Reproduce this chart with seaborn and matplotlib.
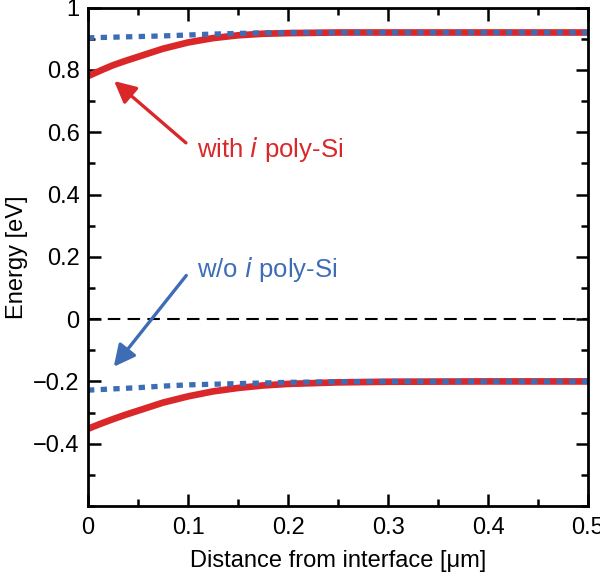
import pandas as pd
import matplotlib.pyplot as plt
import seaborn as sns
from matplotlib.ticker import MultipleLocator

# values
distance = [0, 0.0125, 0.025, 0.0375, 0.05, 0.075, 0.1, 0.125, 0.15, 0.175, 0.2, 0.25, 0.3, 0.4, 0.5]
cb_with = [0.780, 0.798, 0.815, 0.829, 0.842, 0.868, 0.888, 0.902, 0.911, 0.916, 0.918, 0.920, 0.920, 0.920, 0.920]
cb_without = [0.903, 0.904, 0.905, 0.906, 0.907, 0.909, 0.912, 0.915, 0.917, 0.919, 0.920, 0.920, 0.920, 0.920, 0.920]
vb_with = [-0.352, -0.336, -0.321, -0.307, -0.294, -0.268, -0.248, -0.232, -0.221, -0.213, -0.208, -0.203, -0.201, -0.200, -0.200]
vb_without = [-0.228, -0.226, -0.224, -0.222, -0.220, -0.215, -0.211, -0.209, -0.207, -0.205, -0.203, -0.201, -0.200, -0.200, -0.200]

red = '#da2729'
blue = '#3e6db6'

sns.set_style('ticks', {'axes.edgecolor': 'black', 'text.color': 'black',
                        'xtick.color': 'black', 'ytick.color': 'black',
                        'axes.labelcolor': 'black'})
plt.rcParams['font.family'] = ['Liberation Sans', 'DejaVu Sans']

fig = plt.figure(figsize=(6, 5.83), dpi=100)
ax = fig.add_axes([0.1467, 0.132, 0.8333, 0.855])

ax.axhline(0, color='black', lw=1.5, ls=(0, (6, 3.5)))

sns.lineplot(x=distance, y=cb_with, ax=ax, color=red, lw=4.8)
sns.lineplot(x=distance, y=vb_with, ax=ax, color=red, lw=4.8)
sns.lineplot(x=distance, y=cb_without, ax=ax, color=blue, lw=3.8, ls=(0, (1.2, 1.2)))
sns.lineplot(x=distance, y=vb_without, ax=ax, color=blue, lw=3.8, ls=(0, (1.2, 1.2)))
for ln in ax.lines:
    ln.set_dash_capstyle('butt')

# arrows and labels
ax.annotate('', xy=(0.024, 0.77), xytext=(0.1, 0.56),
            arrowprops=dict(arrowstyle='-|>,head_length=1.3,head_width=0.65', color=red, lw=2.4))
ax.text(0.109, 0.544, 'with $\\it{i}$ poly-Si', color=red, fontsize=18.5, va='center')
ax.annotate('', xy=(0.024, -0.16), xytext=(0.1, 0.147),
            arrowprops=dict(arrowstyle='-|>,head_length=1.3,head_width=0.65', color=blue, lw=2.4))
ax.text(0.109, 0.16, 'w/o $\\it{i}$ poly-Si', color=blue, fontsize=18.5, va='center')

ax.set_xlim(0, 0.5)
ax.set_ylim(-0.6, 1)
ax.set_xticks([0, 0.1, 0.2, 0.3, 0.4, 0.5])
ax.set_xticklabels(['0', '0.1', '0.2', '0.3', '0.4', '0.5'])
ax.set_yticks([-0.4, -0.2, 0, 0.2, 0.4, 0.6, 0.8, 1])
ax.set_yticklabels(['\u22120.4', '\u22120.2', '0', '0.2', '0.4', '0.6', '0.8', '1'])
ax.xaxis.set_minor_locator(MultipleLocator(0.05))
ax.yaxis.set_minor_locator(MultipleLocator(0.1))
ax.tick_params(which='both', direction='in', top=True, right=True, labelsize=17, width=1.8)
ax.tick_params(axis='x', pad=8)
ax.tick_params(axis='y', pad=6)
ax.tick_params(which='major', length=9)
ax.tick_params(which='minor', length=5)
for s in ax.spines.values():
    s.set_linewidth(2)

ax.set_xlabel('Distance from interface [\u03bcm]', fontsize=17, labelpad=8)
ax.set_ylabel('Energy [eV]', fontsize=17, labelpad=4)

fig.savefig('out.png', dpi=100)
